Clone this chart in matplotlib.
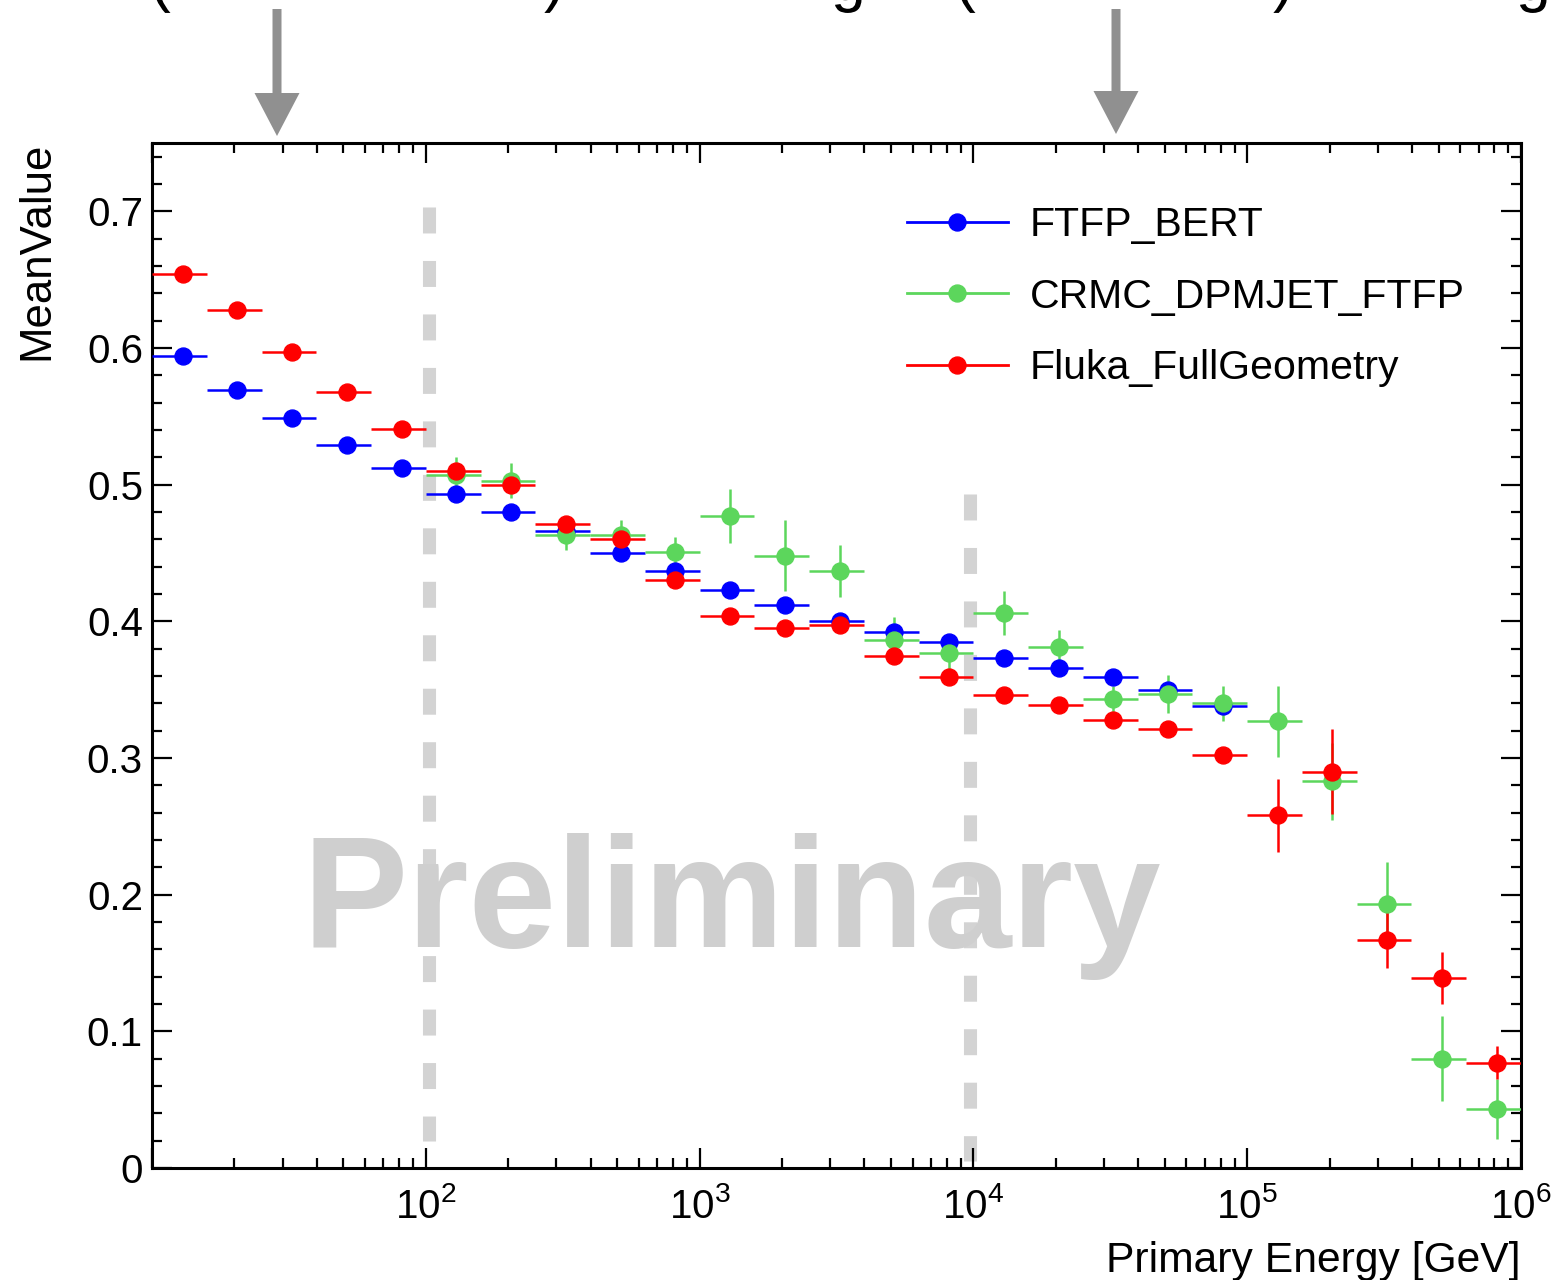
import numpy as np
import matplotlib
matplotlib.use('Agg')
import matplotlib.pyplot as plt
import matplotlib.patheffects as pe
from matplotlib.lines import Line2D
from matplotlib.patches import FancyArrow
from matplotlib.ticker import FixedLocator, FixedFormatter, LogLocator, NullFormatter, FuncFormatter

plt.rcParams['font.family'] = ['Liberation Sans', 'DejaVu Sans']
plt.rcParams['mathtext.fontset'] = 'custom'
plt.rcParams['mathtext.rm'] = 'Liberation Sans'
plt.rcParams['mathtext.it'] = 'Liberation Sans'
plt.rcParams['lines.scale_dashes'] = False

# energy bins (5 per decade, 10 GeV .. 1 PeV)
bin_edges = np.logspace(1, 6, 26)

# mean values
ftfp_bert = [0.594, 0.569, 0.549, 0.529, 0.512, 0.493, 0.480, 0.466, 0.450, 0.437,
             0.423, 0.412, 0.400, 0.392, 0.385, 0.373, 0.366, 0.359, 0.350, 0.338]
ftfp_bert_err = [0.002] * 20

crmc_first_bin = 5
crmc_dpmjet = [0.507, 0.503, 0.463, 0.463, 0.451, 0.477, 0.448, 0.437, 0.386, 0.377,
               0.406, 0.381, 0.343, 0.347, 0.340, 0.327, 0.283, 0.193, 0.080, 0.043]
crmc_dpmjet_err = [0.013, 0.013, 0.011, 0.011, 0.011, 0.020, 0.026, 0.019, 0.017, 0.014,
                   0.016, 0.013, 0.010, 0.014, 0.013, 0.026, 0.028, 0.031, 0.031, 0.022]

fluka = [0.654, 0.628, 0.597, 0.568, 0.541, 0.510, 0.500, 0.471, 0.460, 0.430,
         0.404, 0.395, 0.397, 0.375, 0.359, 0.346, 0.339, 0.328, 0.321, 0.302,
         0.258, 0.290, 0.167, 0.139, 0.077]
fluka_err = [0.003] * 20 + [0.027, 0.031, 0.021, 0.019, 0.012]

labels = ['FTFP_BERT', 'CRMC_DPMJET_FTFP', 'Fluka_FullGeometry']
colors = ['#0000ff', '#5cd65c', '#ff0000']

# energy thresholds marked by the dashed lines
thresholds = [102.5, 9700.0]
threshold_tops = [0.7035, 0.493]
threshold_bottoms = [0.02, 0.005]

fig = plt.figure(figsize=(15.55, 12.8), dpi=100)
ax = fig.add_axes([152 / 1555, 1 - 1168 / 1280, (1521 - 152) / 1555, (1168 - 143) / 1280])

lo = bin_edges[:-1]
hi = bin_edges[1:]
centers = (lo + hi) / 2


def draw(first, values, errs, color):
    n = len(values)
    c = centers[first:first + n]
    xerr = [c - lo[first:first + n], hi[first:first + n] - c]
    ax.errorbar(c, values, xerr=xerr, yerr=errs, fmt='o', color=color, ms=12.2,
                elinewidth=1.8, capsize=0, zorder=3)


draw(0, ftfp_bert, ftfp_bert_err, colors[0])
draw(crmc_first_bin, crmc_dpmjet, crmc_dpmjet_err, colors[1])
draw(0, fluka, fluka_err, colors[2])

for xv, top, bot in zip(thresholds, threshold_tops, threshold_bottoms):
    ax.plot([xv, xv], [top, bot], color='#d3d3d3', lw=9.4, dashes=(18.7, 19.8),
            solid_capstyle='butt', dash_capstyle='butt', zorder=1)

ax.set_xscale('log')
ax.set_xlim(10, 1e6)
ax.set_ylim(0, 0.75)

ax.xaxis.set_major_locator(FixedLocator([1e1, 1e2, 1e3, 1e4, 1e5, 1e6]))
ax.xaxis.set_major_formatter(FixedFormatter(['', r'$10^{2}$', r'$10^{3}$', r'$10^{4}$',
                                             r'$10^{5}$', r'$10^{6}$']))
ax.xaxis.set_minor_locator(LogLocator(base=10, subs=np.arange(2, 10), numticks=20))
ax.xaxis.set_minor_formatter(NullFormatter())
ax.set_yticks(np.arange(0, 0.71, 0.1))
ax.set_yticks(np.arange(0, 0.751, 0.02), minor=True)
ax.yaxis.set_major_formatter(FuncFormatter(lambda v, p: '%g' % round(v, 2)))

ax.tick_params(which='both', direction='in', top=True, right=True, width=1.6)
ax.tick_params(which='major', length=14.4)
ax.tick_params(which='minor', length=7.2)
ax.tick_params(axis='y', labelsize=29, pad=6.5)
ax.tick_params(axis='x', labelsize=29, pad=14)
for s in ax.spines.values():
    s.set_linewidth(2.2)

fig.text(1521 / 1555, 1 - 1272 / 1280, 'Primary Energy [GeV]', fontsize=30.7,
         ha='right', va='baseline')
fig.text(57 / 1555, 1 - 142 / 1280, 'MeanValue', fontsize=31.5, rotation=90,
         ha='right', va='top')

fig.text(732 / 1555, 1 - 947 / 1280, 'Preliminary', fontsize=113.5, fontweight='bold',
         color='#cfcfcf', ha='center', va='baseline', zorder=0)

handles = [Line2D([], [], color=c, marker='o', lw=2, ms=12.2) for c in colors]
ax.legend(handles, labels, loc='upper left', bbox_to_anchor=(907 / 1555, 1 - 206 / 1280),
          bbox_transform=fig.transFigure, frameon=False, fontsize=29.5,
          handlelength=2.46, handletextpad=0.54, labelspacing=0.82, borderpad=0,
          borderaxespad=0)

# arrows and the cut-off heading above the frame
for xp, tip in [(277, 136), (1116, 134)]:
    fig.patches.append(FancyArrow(xp / 1555, 1 - 9 / 1280, 0, -(tip - 9) / 1280,
                                  width=9 / 1555, head_width=45 / 1555,
                                  head_length=43 / 1280, length_includes_head=True,
                                  color='#909090', lw=0, transform=fig.transFigure))

# only the lower edge of this heading shows inside the frame
for ch, xp in [('(', 150), (')', 544), ('g', 831), ('(', 955), (')', 1273), ('g', 1516)]:
    fig.text(xp / 1555, 1.0, ch, fontsize=45, ha='left', va='baseline',
             path_effects=[pe.Normal()])

fig.savefig('out.png', dpi=100)
